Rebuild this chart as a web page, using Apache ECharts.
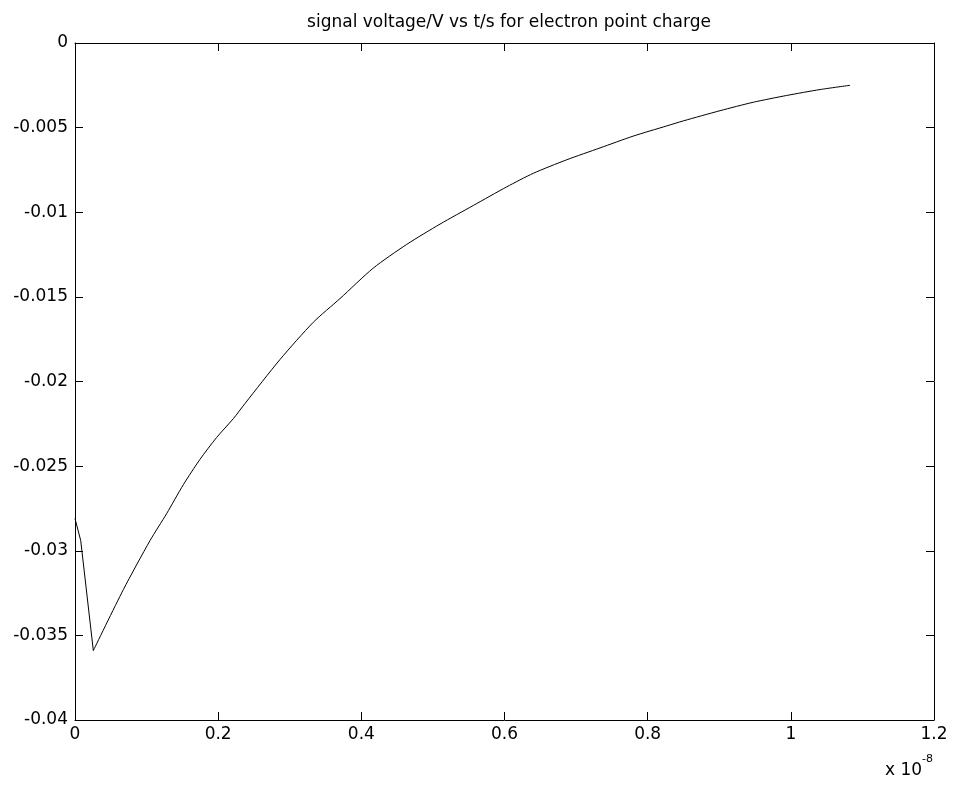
<!DOCTYPE html>
<html>
<head>
<meta charset="utf-8">
<script src="https://cdn.jsdelivr.net/npm/echarts@6/dist/echarts.min.js"></script>
<style>
  html, body { margin: 0; padding: 0; background: #fff; }
  #chart { width: 953px; height: 787px; }
</style>
</head>
<body>
<div id="chart"></div>
<script>
// time in units of 1e-8 s, voltage in V
// initial sharp drop
var dropTime = [0, 0.008, 0.0256];
var dropVolt = [-0.0281, -0.0294, -0.0359];
// decay after the minimum
var decayTime = [0.0256, 0.0675, 0.1048, 0.1281, 0.1513, 0.1746, 0.1980, 0.2211, 0.2375, 0.2864,
  0.3329, 0.3702, 0.4167, 0.4634, 0.5099, 0.5564, 0.6031, 0.6402, 0.6869, 0.7334,
  0.7799, 0.8266, 0.8500, 0.9011, 0.9476, 0.9942, 1.0408, 1.0827];
var decayVolt = [-0.0359, -0.0323, -0.0294, -0.0278, -0.0261, -0.0246, -0.0233, -0.0222, -0.0213, -0.0187,
  -0.0165, -0.0151, -0.0133, -0.0119, -0.0107, -0.0096, -0.0085, -0.0077, -0.0069, -0.0062,
  -0.0055, -0.0049, -0.0046, -0.0040, -0.0035, -0.0031, -0.00275, -0.0025];

var titleText = 'signal voltage/V vs t/s for electron point charge';

var chart = echarts.init(document.getElementById('chart'));

function toPts(xs, ys) {
  var out = [];
  for (var i = 0; i < xs.length; i++) out.push([xs[i], ys[i]]);
  return out;
}

var FONT = 'DejaVu Sans, Liberation Sans, Arial, sans-serif';

var labelFont = {
  color: '#000',
  fontFamily: FONT,
  fontSize: 17
};

function xAx(pos, showLabel) {
  return {
    type: 'value',
    position: pos,
    min: 0,
    max: 1.2,
    interval: 0.2,
    axisLine: { show: true, onZero: false, lineStyle: { color: '#000', width: 1 } },
    axisTick: { show: true, inside: true, length: 8, lineStyle: { color: '#000' } },
    axisLabel: Object.assign({ show: showLabel, margin: 6 }, labelFont),
    splitLine: { show: false }
  };
}

function yAx(pos, showLabel) {
  return {
    type: 'value',
    position: pos,
    min: -0.04,
    max: 0,
    interval: 0.005,
    axisLine: { show: true, onZero: false, lineStyle: { color: '#000', width: 1 } },
    axisTick: { show: true, inside: true, length: 8, lineStyle: { color: '#000' } },
    axisLabel: Object.assign({ show: showLabel, margin: 7 }, labelFont),
    splitLine: { show: false }
  };
}

var option = {
  backgroundColor: '#fff',
  animation: false,
  title: {
    text: titleText,
    left: 504,
    textAlign: 'center',
    top: 9,
    textStyle: {
      color: '#000',
      fontWeight: 'normal',
      fontFamily: FONT,
      fontSize: 17
    }
  },
  grid: {
    left: 75,
    right: 19,
    top: 43,
    bottom: 67,
    containLabel: false
  },
  xAxis: [xAx('bottom', true), xAx('top', false)],
  yAxis: [yAx('left', true), yAx('right', false)],
  series: [{
    type: 'line',
    data: toPts(dropTime, dropVolt),
    showSymbol: false,
    smooth: false,
    lineStyle: { color: '#000', width: 1 }
  }, {
    type: 'line',
    data: toPts(decayTime, decayVolt),
    showSymbol: false,
    smooth: 0.25,
    lineStyle: { color: '#000', width: 1 }
  }],
  graphic: [
    {
      type: 'text',
      left: 885,
      top: 762,
      style: {
        text: 'x 10',
        fill: '#000',
        font: '17px ' + FONT
      }
    },
    {
      type: 'text',
      left: 922,
      top: 754,
      style: {
        text: '-8',
        fill: '#000',
        font: '11px ' + FONT
      }
    }
  ]
};

chart.setOption(option);
</script>
</body>
</html>
